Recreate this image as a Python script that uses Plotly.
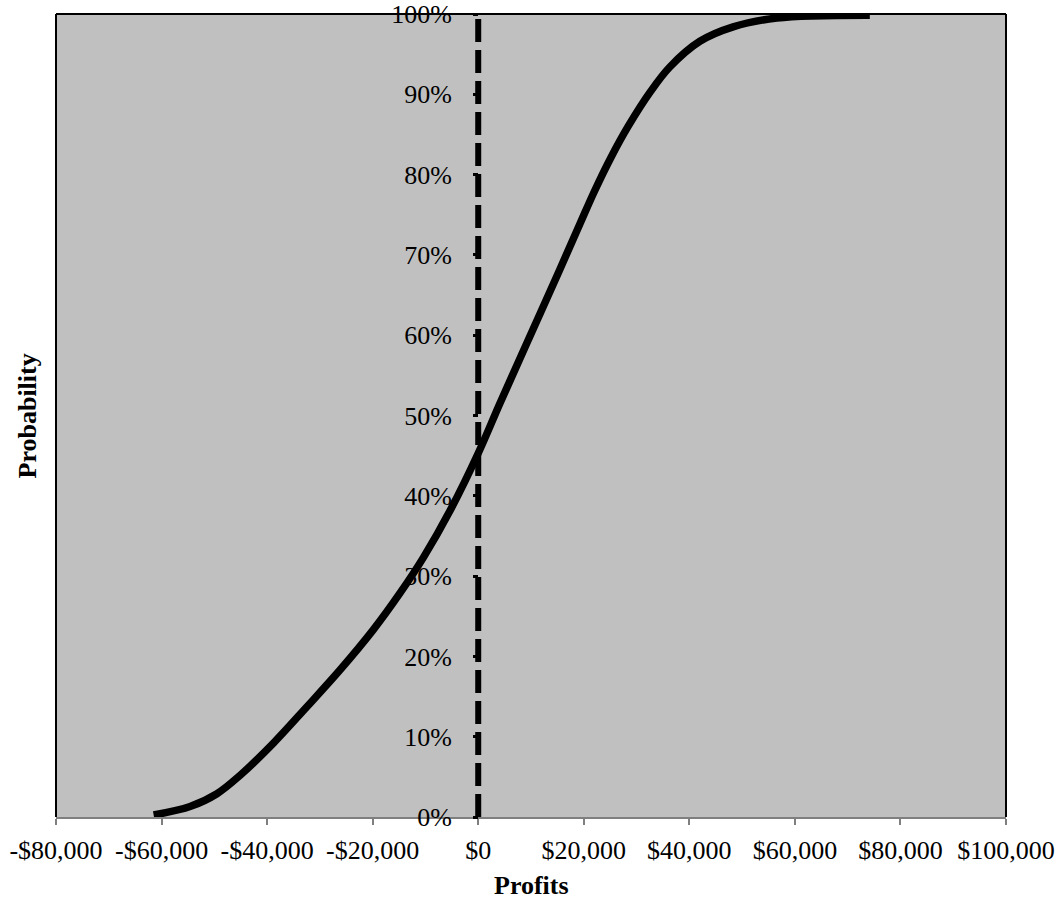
import plotly.graph_objects as go

# Cumulative probability curve (profits in $, probability as fraction)
profits = [-61500, -54600, -49500, -45100, -38800, -32500, -26200, -19900, -14800,
           -10400, -5300, 0, 4100, 9200, 15400, 19300, 22000, 25200, 28400, 32600,
           36300, 42000, 48300, 56600, 74200]
probability = [0.0025, 0.013, 0.029, 0.052, 0.092, 0.137, 0.183, 0.233, 0.279,
               0.323, 0.382, 0.453, 0.515, 0.590, 0.681, 0.739, 0.779, 0.822, 0.860,
               0.903, 0.934, 0.966, 0.984, 0.995, 0.9985]

# Break-even reference line
breakeven_x = [0, 0]
breakeven_y = [0, 1]

x_tickvals = [-80000, -60000, -40000, -20000, 0, 20000, 40000, 60000, 80000, 100000]
x_ticktext = ["-$80,000", "-$60,000", "-$40,000", "-$20,000", "$0", "$20,000",
              "$40,000", "$60,000", "$80,000", "$100,000"]
y_tickvals = [0, 0.1, 0.2, 0.3, 0.4, 0.5, 0.6, 0.7, 0.8, 0.9, 1.0]
y_ticktext = ["0%", "10%", "20%", "30%", "40%", "50%", "60%", "70%", "80%", "90%", "100%"]

FONT = "Liberation Serif, Times New Roman, serif"

fig = go.Figure()
fig.add_trace(go.Scatter(x=breakeven_x, y=breakeven_y, mode="lines",
                         line=dict(color="black", width=6, dash="23px,8px"),
                         hoverinfo="skip", showlegend=False))
fig.add_trace(go.Scatter(x=profits, y=probability, mode="lines",
                         line=dict(color="black", width=7.5, shape="spline", smoothing=1.0),
                         showlegend=False))

xmin, xmax = -80000, 100000
fig.update_layout(
    width=1059, height=901,
    margin=dict(l=56, r=53, t=14, b=84, autoexpand=False),
    paper_bgcolor="white",
    plot_bgcolor="#c0c0c0",
    font=dict(family=FONT, size=26, color="black"),
    showlegend=False,
    xaxis=dict(range=[xmin, xmax], tickvals=x_tickvals, ticktext=x_ticktext,
               automargin=False,
               showgrid=False, zeroline=False, showline=True, linecolor="#7f7f7f",
               linewidth=2, ticks="outside", ticklen=6, tickwidth=2, tickcolor="#7f7f7f",
               ticklabelstandoff=3,
               tickfont=dict(family=FONT, size=26, color="black")),
    yaxis=dict(range=[0, 1], tickvals=y_tickvals, ticktext=y_ticktext,
               automargin=False,
               anchor="free", position=(0 - xmin) / (xmax - xmin),
               showgrid=False, zeroline=False, showline=False,
               ticks="outside", ticklen=5, tickwidth=3, tickcolor="black",
               ticklabelstandoff=16,
               tickfont=dict(family=FONT, size=26, color="black")),
    shapes=[
        dict(type="line", xref="paper", yref="paper", x0=0, x1=0, y0=0, y1=1,
             line=dict(color="black", width=2), layer="below"),
        dict(type="line", xref="paper", yref="paper", x0=0, x1=1, y0=1, y1=1,
             line=dict(color="black", width=2), layer="below"),
        dict(type="line", xref="paper", yref="paper", x0=1, x1=1, y0=0, y1=1,
             line=dict(color="black", width=2), layer="below"),
    ],
    annotations=[
        dict(text="<b>Probability</b>", xref="paper", yref="paper",
             x=-0.0295, y=0.5, xanchor="center", yanchor="middle",
             textangle=-90, showarrow=False, font=dict(family=FONT, size=26, color="black")),
        dict(text="<b>Profits</b>", xref="paper", yref="paper",
             x=0.5, y=-0.0859, xanchor="center", yanchor="middle",
             showarrow=False, font=dict(family=FONT, size=26, color="black")),
    ],
)

fig.write_html("out.html", config={"displayModeBar": False},
               post_script="document.body.style.margin='0px';")
